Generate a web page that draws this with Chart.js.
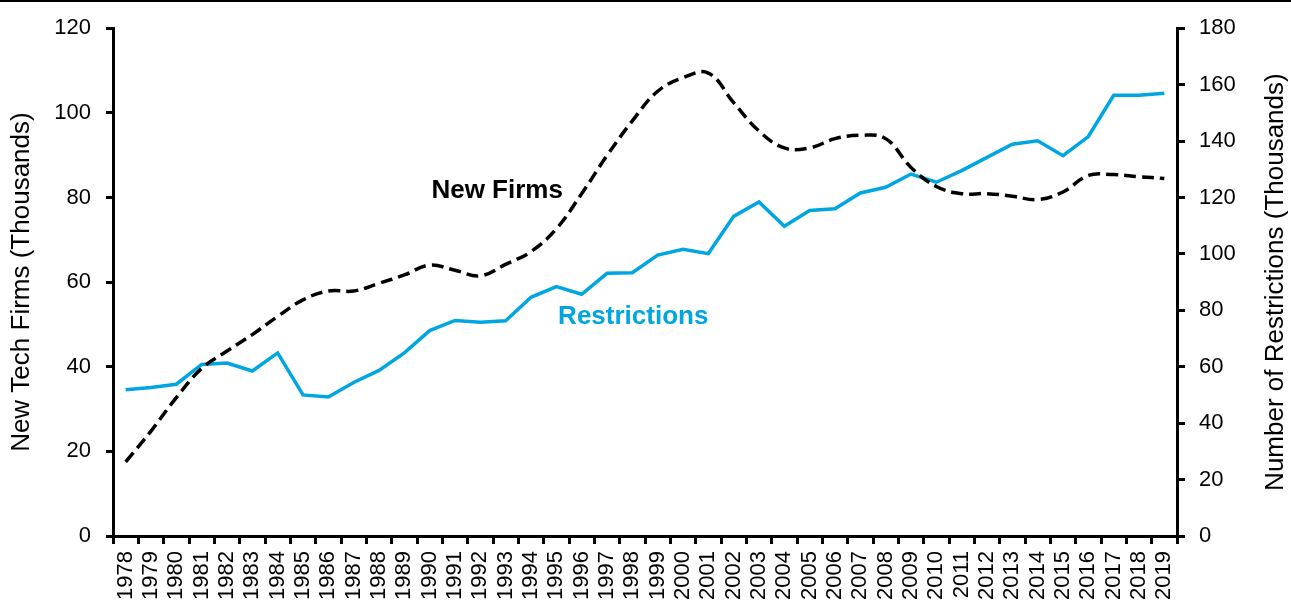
<!DOCTYPE html>
<html>
<head>
<meta charset="utf-8">
<script src="https://cdn.jsdelivr.net/npm/chart.js@4/dist/chart.umd.min.js"></script>
<style>
	html, body { margin: 0; padding: 0; background: #fff; }
	#wrap { position: relative; width: 1291px; height: 603px; overflow: hidden; }
	#topline { position: absolute; left: 0; top: 0; width: 1291px; height: 2px; background: #000; }
	#chart { position: absolute; left: 0; top: 0; }
</style>
</head>
<body>
<div id="wrap">
	<canvas id="chart" width="1291" height="603"></canvas>
	<div id="topline"></div>
</div>
<script>
	'use strict';

	// Years on the category axis
	const years = [
		'1978', '1979', '1980', '1981', '1982', '1983', '1984', '1985', '1986', '1987',
		'1988', '1989', '1990', '1991', '1992', '1993', '1994', '1995', '1996', '1997',
		'1998', '1999', '2000', '2001', '2002', '2003', '2004', '2005', '2006', '2007',
		'2008', '2009', '2010', '2011', '2012', '2013', '2014', '2015', '2016', '2017',
		'2018', '2019'
	];

	// New tech firms, thousands (left axis)
	const newFirms = [
		17.5, 24.8, 32.7, 39.6, 43.7, 47.6, 51.9, 55.8, 57.9, 57.9,
		59.7, 61.7, 64.0, 62.8, 61.5, 64.2, 67.2, 72.6, 80.9, 89.9,
		98.1, 105.1, 108.3, 109.4, 102.4, 95.7, 91.7, 91.7, 93.9, 94.7,
		93.9, 87.1, 82.6, 80.9, 80.9, 80.3, 79.5, 81.3, 85.2, 85.4,
		84.9, 84.5
	];

	// Number of restrictions, thousands (right axis)
	const restrictions = [
		51.8, 52.6, 53.8, 60.8, 61.3, 58.5, 64.9, 50.0, 49.3, 54.4,
		58.7, 64.9, 72.8, 76.4, 75.8, 76.3, 84.6, 88.4, 85.7, 93.1,
		93.3, 99.6, 101.6, 100.1, 113.3, 118.4, 109.8, 115.4, 116.0, 121.6,
		123.6, 128.3, 125.4, 129.5, 134.2, 138.9, 140.1, 134.8, 141.6, 156.2,
		156.2, 156.9
	];

	// Tick settings for the two value axes
	const leftTicks = { min: 0, max: 120, step: 20 };
	const rightTicks = { min: 0, max: 180, step: 20 };

	const leftTitle = 'New Tech Firms (Thousands)';
	const rightTitle = 'Number of Restrictions (Thousands)';

	const blue = 'rgb(0, 166, 226)';
	const font = 'Liberation Sans, Arial, sans-serif';

	/**
	 * Series name labels and axis titles (both read bottom to top)
	 */
	const annotations = {
		id: 'annotations',
		afterDatasetsDraw(chart) {
			const ctx = chart.ctx;
			const area = chart.chartArea;
			const x = chart.scales.x;
			const midY = (area.top + area.bottom) / 2;

			ctx.save();
			ctx.font = 'bold 26px ' + font;
			ctx.textBaseline = 'middle';

			ctx.fillStyle = '#000';
			ctx.textAlign = 'right';
			ctx.fillText('New Firms', x.getPixelForValue(17.26), chart.scales.y.getPixelForValue(81.5));

			ctx.fillStyle = blue;
			ctx.textAlign = 'left';
			ctx.fillText('Restrictions', x.getPixelForValue(17.07), chart.scales.y1.getPixelForValue(77.8));

			// Axis titles
			ctx.fillStyle = '#000';
			ctx.textAlign = 'center';
			ctx.font = '26px ' + font;
			[[area.left - 91, leftTitle], [area.right + 99, rightTitle]].forEach(function(t) {
				ctx.save();
				ctx.translate(t[0], midY);
				ctx.rotate(-Math.PI / 2);
				ctx.fillText(t[1], 0, 0);
				ctx.restore();
			});
			ctx.restore();
		}
	};

	new Chart(document.getElementById('chart'), {
		type: 'line',
		data: {
			labels: years,
			datasets: [
				{
					label: 'New Firms',
					data: newFirms,
					yAxisID: 'y',
					borderColor: '#000',
					borderWidth: 3.5,
					borderDash: [12, 6],
					tension: 0.4,
					pointRadius: 0,
					fill: false
				},
				{
					label: 'Restrictions',
					data: restrictions,
					yAxisID: 'y1',
					borderColor: blue,
					borderWidth: 3.5,
					tension: 0,
					pointRadius: 0,
					fill: false
				}
			]
		},
		options: {
			responsive: false,
			animation: false,
			layout: { padding: { top: 25, left: 0, right: 0, bottom: 0 } },
			plugins: {
				legend: { display: false },
				tooltip: { enabled: false }
			},
			scales: {
				x: {
					offset: true,
					grid: {
						offset: true,
						drawOnChartArea: false,
						drawTicks: true,
						tickLength: 8,
						color: '#000',
						lineWidth: 3
					},
					border: { display: true, color: '#000', width: 3 },
					ticks: {
						autoSkip: false,
						minRotation: 90,
						maxRotation: 90,
						padding: 7,
						color: '#000',
						font: { family: font, size: 22 }
					},
					afterFit: function(scale) { scale.height = 67; }
				},
				y: {
					position: 'left',
					min: leftTicks.min,
					max: leftTicks.max,
					grid: {
						drawOnChartArea: false,
						drawTicks: true,
						tickLength: 7,
						color: '#000',
						lineWidth: 3
					},
					border: { display: true, color: '#000', width: 3 },
					ticks: {
						stepSize: leftTicks.step,
						padding: 15,
						color: '#000',
						font: { family: font, size: 22 }
					},
					afterFit: function(scale) { scale.width = 113; }
				},
				y1: {
					position: 'right',
					min: rightTicks.min,
					max: rightTicks.max,
					grid: {
						drawOnChartArea: false,
						drawTicks: true,
						tickLength: 8,
						color: '#000',
						lineWidth: 3
					},
					border: { display: true, color: '#000', width: 3 },
					ticks: {
						stepSize: rightTicks.step,
						padding: 14,
						color: '#000',
						font: { family: font, size: 22 }
					},
					afterFit: function(scale) { scale.width = 114; }
				}
			}
		},
		plugins: [annotations]
	});
</script>
</body>
</html>
